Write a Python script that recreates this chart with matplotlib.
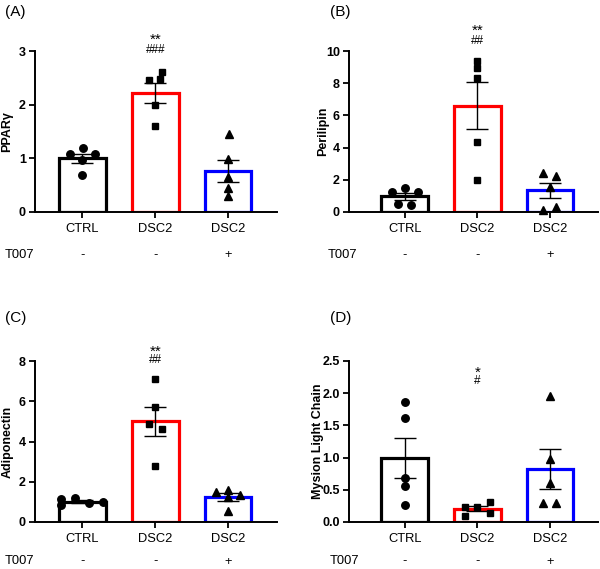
import numpy as np
import matplotlib
matplotlib.use("Agg")
import matplotlib.pyplot as plt

plt.rcParams["font.family"] = ["Liberation Sans", "DejaVu Sans"]

# categories / row labels
categories = ["CTRL", "DSC2", "DSC2"]
t007 = ["-", "-", "+"]
colors = ["#000000", "#ff0000", "#0000ff"]
markers = ["o", "s", "^"]

# individual values
ppar = [[1.08, 1.19, 1.08, 0.97, 0.69],
        [2.60, 2.46, 2.47, 2.00, 1.60],
        [1.45, 0.99, 0.66, 0.44, 0.29]]
perilipin = [[1.25, 1.50, 1.25, 0.50, 0.45],
             [9.38, 8.96, 8.30, 4.33, 1.99],
             [2.44, 2.26, 1.57, 0.12, 0.33]]
adiponectin = [[1.15, 0.82, 1.17, 0.92, 0.97],
               [7.09, 5.69, 4.88, 4.60, 2.76],
               [1.49, 1.60, 1.32, 1.24, 0.53]]
mlc = [[1.86, 1.61, 0.69, 0.56, 0.26],
       [0.24, 0.23, 0.31, 0.10, 0.14],
       [1.95, 0.98, 0.60, 0.29, 0.29]]

# horizontal scatter of the points inside each bar
jit_a = [[-0.17, 0.01, 0.17, -0.01, 0.0], [0.09, -0.08, 0.06, 0.0, 0.0], [0.01, 0, 0, 0, 0]]
jit_b = [[-0.18, 0.0, 0.18, -0.09, 0.09], [0, 0, 0, 0, 0], [-0.09, 0.08, 0.0, -0.09, 0.08]]
jit_c = [[-0.3, -0.3, -0.1, 0.09, 0.28], [0, 0, -0.09, 0.09, 0], [-0.17, 0.0, 0.17, 0.0, 0.0]]
jit_d = [[0, 0, 0, 0, 0], [-0.17, 0.0, 0.17, -0.17, 0.17], [0, 0, 0, -0.09, 0.08]]

panels = [
    dict(letter="(A)", data=ppar, jit=jit_a, ylabel="PPARγ", ylim=3, yticks=[0, 1, 2, 3],
         ticklabels=["0", "1", "2", "3"], sig=["**", "###"], sigy=[1.087, 1.006],
         rect=[35, 51, 277, 212], xlim=(-0.653, 2.674), ylabx=7, t007x=5, rowy=43, letx=5, lety=12),
    dict(letter="(B)", data=perilipin, jit=jit_b, ylabel="Perilipin", ylim=10, yticks=[0, 2, 4, 6, 8, 10],
         ticklabels=["0", "2", "4", "6", "8", "10"], sig=["**", "##"], sigy=[1.143, 1.062],
         rect=[349, 51, 598, 212], xlim=(-0.766, 2.66), ylabx=323, t007x=328, rowy=43, letx=330, lety=12),
    dict(letter="(C)", data=adiponectin, jit=jit_c, ylabel="Adiponectin", ylim=8, yticks=[0, 2, 4, 6, 8],
         ticklabels=["0", "2", "4", "6", "8"], sig=["**", "##"], sigy=[1.079, 1.006],
         rect=[35, 361, 277, 522], xlim=(-0.653, 2.674), ylabx=8, t007x=5, rowy=39.5, letx=5, lety=318),
    dict(letter="(D)", data=mlc, jit=jit_d, ylabel="Mysion Light Chain", ylim=2.5,
         yticks=[0, 0.5, 1.0, 1.5, 2.0, 2.5], ticklabels=["0.0", "0.5", "1.0", "1.5", "2.0", "2.5"],
         sig=["*", "#"], sigy=[0.944, 0.878],
         rect=[349, 361, 598, 522], xlim=(-0.766, 2.66), ylabx=318, t007x=330, rowy=39.5, letx=330, lety=318),
]

W, H = 600, 569
fig = plt.figure(figsize=(W / 100, H / 100), dpi=100)

for p in panels:
    l, t, r, b = p["rect"]
    ax = fig.add_axes([l / W, (H - b) / H, (r - l) / W, (b - t) / H])
    x = np.arange(3)
    vals = [np.array(v) for v in p["data"]]
    means = [v.mean() for v in vals]
    sems = [v.std(ddof=1) / np.sqrt(len(v)) for v in vals]

    ax.bar(x, means, width=0.64, facecolor="white", edgecolor=colors, linewidth=2.3, zorder=2)
    ax.errorbar(x, means, yerr=sems, fmt="none", ecolor="black", elinewidth=1.0,
                capsize=8, capthick=1.0, zorder=3)
    for i in range(3):
        ax.plot(x[i] + np.array(p["jit"][i]), vals[i], linestyle="none", marker=markers[i],
                color="black", markersize=5.4 if i != 1 else 4.8, zorder=4, clip_on=False)

    ax.set_xlim(*p["xlim"])
    ax.set_ylim(0, p["ylim"])
    ax.set_yticks(p["yticks"])
    ax.set_yticklabels(p["ticklabels"], fontweight="bold", fontsize=9)
    ax.set_xticks(x)
    ax.set_xticklabels(categories, fontsize=9.3)
    ax.tick_params(axis="both", length=4.5, width=1.3, pad=2)
    ax.tick_params(axis="x", pad=3.5)
    for s in ["top", "right"]:
        ax.spines[s].set_visible(False)
    for s in ["left", "bottom"]:
        ax.spines[s].set_linewidth(1.4)

    # T007 row
    for i in range(3):
        ax.annotate(t007[i], xy=(x[i], 0), xycoords=("data", "axes fraction"),
                    xytext=(0, -p["rowy"] * 0.72), textcoords="offset points",
                    ha="center", va="center", fontsize=9.3)
    fig.text(p["t007x"] / W, 1 - (b + p["rowy"]) / H, "T007", ha="left", va="center", fontsize=9.3)

    # significance marks over DSC2
    for s, sy in zip(p["sig"], p["sigy"]):
        size = 11 if "*" in s else 8.5
        dy = -0.02 if "*" in s else 0
        ax.text(1, sy + dy, s, transform=ax.get_xaxis_transform(), ha="center", va="center",
                fontsize=size, clip_on=False)

    fig.text(p["ylabx"] / W, 1 - ((t + b) / 2) / H, p["ylabel"], rotation=90,
             ha="center", va="center", fontweight="bold", fontsize=9)
    fig.text(p["letx"] / W, 1 - p["lety"] / H, p["letter"], ha="left", va="center", fontsize=11)

fig.savefig("out.png", dpi=100)
